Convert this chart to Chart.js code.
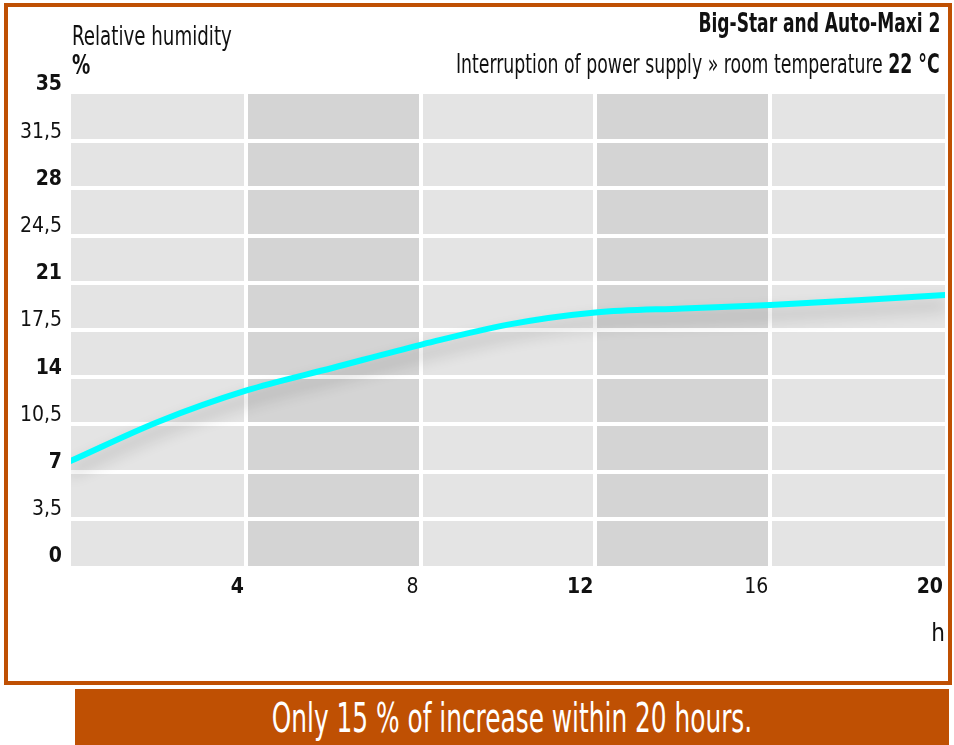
<!DOCTYPE html>
<html>
<head>
<meta charset="utf-8">
<script src="https://cdn.jsdelivr.net/npm/chart.js@4.4.1/dist/chart.umd.min.js"></script>
<style>
  body { margin:0; width:954px; height:745px; position:relative; overflow:hidden; background:#fff;
         font-family:'DejaVu Sans Condensed','Liberation Sans Narrow','Roboto',sans-serif; color:#111; }
  #frame { position:absolute; left:4px; top:3px; width:940px; height:674px; border:4px solid #bf5003; pointer-events:none; z-index:2; }
  #chart { position:absolute; left:0; top:0; }
  .txt { position:absolute; white-space:nowrap; z-index:3; }
  #ylab { left:72px; top:22px; font-size:26px; line-height:29px; transform:scaleX(0.78); transform-origin:left top; }
  #ylab b { display:block; }
  #title { right:14px; top:8px; font-size:26px; font-weight:bold; transform:scaleX(0.73); transform-origin:right top; }
  #sub { right:14px; top:49px; font-size:26px; transform:scaleX(0.74); transform-origin:right top; }
  #footer { position:absolute; left:75px; top:689px; width:874px; height:56px; background:#bf5003; }
  #footer span { position:absolute; left:0; right:0; top:0; text-align:center; color:#fff; font-size:40px; line-height:58px;
                 transform:scaleX(0.69); transform-origin:center top; white-space:nowrap; }
</style>
</head>
<body>
<canvas id="chart" width="954" height="745"></canvas>
<div id="frame"></div>
<div class="txt" id="ylab">Relative humidity<b>%</b></div>
<div class="txt" id="title">Big-Star and Auto-Maxi 2</div>
<div class="txt" id="sub">Interruption of power supply » room temperature <b>22 °C</b></div>
<div id="footer"><span>Only 15 % of increase within 20 hours.</span></div>
<script>
// valeurs
const hours = [0, 2, 4, 6, 8, 10, 12, 14, 16, 18, 20];
const humidity = [7.8, 10.7, 13.0, 14.7, 16.4, 17.9, 18.8, 19.1, 19.35, 19.7, 20.1];
const xTicks = [0, 4, 8, 12, 16, 20];
const yTicks = [0, 3.5, 7, 10.5, 14, 17.5, 21, 24.5, 28, 31.5, 35];
const boldX = [4, 12, 20];
const boldY = [0, 7, 14, 21, 28, 35];

const FONT = "'DejaVu Sans Condensed','Liberation Sans Narrow','Roboto',sans-serif";
Chart.defaults.font.family = FONT;
Chart.defaults.color = '#111';

// bandes grises alternées
const bands = {
  id: 'bands',
  beforeDraw(chart) {
    const { ctx, chartArea: a, scales: { x } } = chart;
    ctx.save();
    for (let i = 0; i < xTicks.length - 1; i++) {
      const x0 = x.getPixelForValue(xTicks[i]);
      const x1 = x.getPixelForValue(xTicks[i + 1]);
      ctx.fillStyle = i % 2 ? '#d4d4d4' : '#e4e4e4';
      ctx.fillRect(x0, a.top, x1 - x0, a.bottom - a.top);
    }
    ctx.restore();
  }
};

// ombre sous la courbe
const lineShadow = {
  id: 'lineShadow',
  beforeDatasetDraw(chart) {
    const c = chart.ctx;
    c.save();
    c.shadowColor = 'rgba(0,0,0,0.24)';
    c.shadowBlur = 16;
    c.shadowOffsetY = 10;
  },
  afterDatasetDraw(chart) {
    chart.ctx.restore();
  }
};

const edgeColor = (min, max) => ctx =>
  (ctx.tick && (ctx.tick.value === min || ctx.tick.value === max)) ? 'rgba(0,0,0,0)' : '#ffffff';
const tickFont = bold => ctx => ({
  size: 21,
  weight: (ctx.tick && bold.includes(ctx.tick.value)) ? 'bold' : 'normal'
});

new Chart(document.getElementById('chart'), {
  type: 'line',
  data: {
    datasets: [{
      data: hours.map((h, i) => ({ x: h, y: humidity[i] })),
      borderColor: '#00ffff',
      borderWidth: 6,
      pointRadius: 0,
      tension: 0.4,
      cubicInterpolationMode: 'monotone',
      borderCapStyle: 'round',
      fill: false
    }]
  },
  options: {
    responsive: false,
    animation: false,
    layout: { padding: { top: 94, right: 6, bottom: 0, left: 0 } },
    plugins: { legend: { display: false }, tooltip: { enabled: false } },
    scales: {
      x: {
        type: 'linear',
        min: 0, max: 20,
        afterBuildTicks: s => { s.ticks = xTicks.map(v => ({ value: v })); },
        afterFit: s => { s.height = 179; },
        border: { display: false },
        grid: { color: edgeColor(0, 20), lineWidth: 4, drawTicks: false },
        ticks: {
          autoSkip: false,
          maxRotation: 0,
          align: 'end',
          labelOffset: -2,
          padding: 9,
          color: '#111',
          font: tickFont(boldX),
          callback: v => v === 0 ? '' : String(v)
        },
        title: {
          display: true, text: 'h', align: 'end', color: '#111',
          font: { size: 24 }, padding: { top: 0, bottom: 96 }
        }
      },
      y: {
        min: 0, max: 35,
        afterBuildTicks: s => { s.ticks = yTicks.map(v => ({ value: v })); },
        afterFit: s => { s.width = 71; },
        border: { display: false },
        grid: { color: edgeColor(0, 35), lineWidth: 4, drawTicks: false },
        ticks: {
          autoSkip: false,
          padding: 9,
          labelOffset: -9,
          color: '#111',
          font: tickFont(boldY),
          callback: v => String(v).replace('.', ',')
        }
      }
    }
  },
  plugins: [bands, lineShadow]
});
</script>
</body>
</html>
